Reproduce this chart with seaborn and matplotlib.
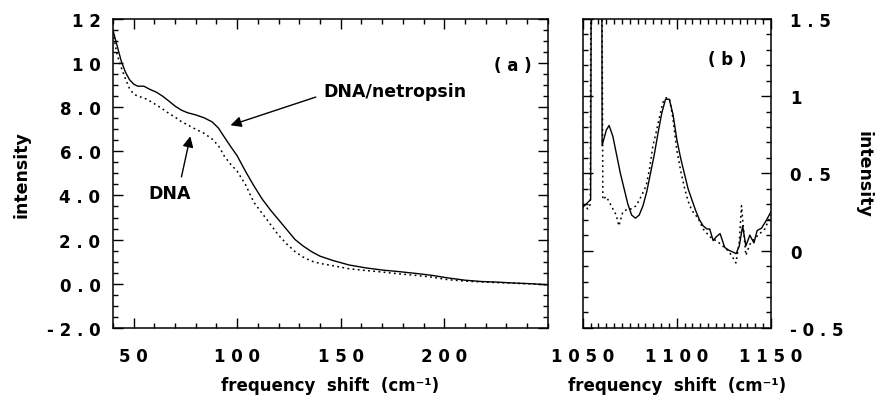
import matplotlib
matplotlib.use("Agg")
import matplotlib.pyplot as plt
import seaborn as sns
from matplotlib.ticker import MultipleLocator, AutoMinorLocator

# ---- panel (a): low frequency region ----
shift_a = [40, 42, 44, 46, 48, 50, 52, 55, 58, 61, 64, 67, 70, 73, 76, 80, 84,
           88, 91, 94, 97, 100, 104, 108, 112, 116, 120, 124, 128, 132, 136,
           140, 146, 154, 162, 170, 178, 186, 194, 202, 210, 218, 226, 234,
           242, 250]
netropsin_a = [11.5, 10.8, 10.1, 9.6, 9.25, 9.05, 8.95, 8.95, 8.8, 8.68, 8.5,
               8.28, 8.05, 7.87, 7.75, 7.65, 7.52, 7.33, 7.05, 6.62, 6.2, 5.8,
               5.1, 4.45, 3.85, 3.35, 2.9, 2.45, 2.0, 1.7, 1.45, 1.25, 1.06,
               0.85, 0.72, 0.62, 0.55, 0.47, 0.38, 0.26, 0.16, 0.1, 0.07, 0.03,
               0.0, -0.05]
dna_a = [11.4, 10.4, 9.8, 9.3, 8.85, 8.6, 8.5, 8.42, 8.27, 8.1, 7.92, 7.72,
         7.55, 7.35, 7.2, 7.0, 6.82, 6.55, 6.25, 5.75, 5.4, 5.1, 4.5, 3.7, 3.2,
         2.7, 2.2, 1.8, 1.45, 1.2, 1.02, 0.92, 0.82, 0.68, 0.6, 0.53, 0.45,
         0.38, 0.3, 0.18, 0.12, 0.08, 0.05, 0.02, -0.01, -0.05]

# ---- panel (b): 1050-1150 region ----
shift_b_netropsin = [1050, 1052.5, 1054.2, 1054.8, 1060.0, 1060.3, 1062.5, 1064,
                     1066, 1068, 1070, 1072, 1074, 1076, 1078, 1080, 1082, 1084,
                     1086, 1088, 1090, 1092, 1094, 1096, 1098, 1100, 1102, 1104,
                     1106, 1108, 1110, 1112, 1114, 1116, 1117.5, 1119.3, 1121,
                     1123, 1125.5, 1128, 1130, 1131.5, 1133.2, 1135, 1136.7,
                     1138.8, 1141, 1142.7, 1145, 1147.3, 1150]
netropsin_b = [0.28, 0.31, 0.33, 3.0, 3.0, 0.68, 0.78, 0.81, 0.74, 0.62, 0.5,
               0.4, 0.3, 0.23, 0.21, 0.23, 0.29, 0.38, 0.5, 0.62, 0.76, 0.89,
               0.98, 0.98, 0.88, 0.72, 0.6, 0.5, 0.4, 0.33, 0.26, 0.2, 0.16,
               0.14, 0.14, 0.065, 0.09, 0.11, 0.02, 0.0, -0.01, -0.02, 0.03,
               0.16, 0.03, 0.1, 0.05, 0.13, 0.145, 0.19, 0.25]
shift_b_dna = [1050, 1051, 1052.7, 1054.0, 1054.6, 1059.8, 1060.7, 1062.4,
               1063.9, 1066, 1067.8, 1069.2, 1071.3, 1074, 1075.8, 1078.4, 1081,
               1083.7, 1085.5, 1087.3, 1089.1, 1090.9, 1092.6, 1094.4, 1096.2,
               1098, 1100, 1102, 1104, 1106, 1108, 1111.3, 1114, 1117.6, 1122,
               1126.4, 1129.1, 1131.4, 1133.2, 1134.4, 1135.3, 1136.7, 1138.8,
               1141.5, 1144.1, 1146.8, 1150]
dna_b = [0.3, 0.29, 0.27, 0.3, 3.0, 3.0, 0.33, 0.35, 0.32, 0.27, 0.23, 0.16,
         0.25, 0.27, 0.27, 0.29, 0.35, 0.42, 0.53, 0.68, 0.77, 0.87, 0.96, 0.99,
         0.98, 0.85, 0.65, 0.52, 0.41, 0.32, 0.26, 0.21, 0.14, 0.09, 0.055,
         0.01, -0.03, -0.08, 0.055, 0.29, 0.16, -0.03, 0.04, 0.08, 0.11, 0.14,
         0.23]

a_xticks = [50, 100, 150, 200]
a_xticklabels = ["5 0", "1 0 0", "1 5 0", "2 0 0"]
a_yticks = [-2, 0, 2, 4, 6, 8, 10, 12]
a_yticklabels = ["- 2 . 0", "0 . 0", "2 . 0", "4 . 0", "6 . 0", "8 . 0", "1 0", "1 2"]
b_xticks = [1050, 1100, 1150]
b_xticklabels = ["1 0 5 0", "1 1 0 0", "1 1 5 0"]
b_yticks = [-0.5, 0, 0.5, 1, 1.5]
b_yticklabels = ["- 0 . 5", "0", "0 . 5", "1", "1 . 5"]

sns.set_style("ticks")
plt.rcParams['font.family'] = ['DejaVu Sans']
plt.rcParams['font.weight'] = 'bold'
for key in ('text.color', 'axes.labelcolor', 'xtick.color', 'ytick.color', 'axes.edgecolor'):
    plt.rcParams[key] = 'black'

fig = plt.figure(figsize=(8.75, 4.06), dpi=100)
ax_a = fig.add_axes([0.129, 0.19, 0.497, 0.761])
ax_b = fig.add_axes([0.666, 0.19, 0.215, 0.761])

solid = dict(color='black', lw=1.0, estimator=None, sort=False)
dotted = dict(color='black', lw=1.1, linestyle=(0, (1.2, 2.2)), estimator=None, sort=False)

sns.lineplot(x=shift_a, y=netropsin_a, ax=ax_a, **solid)
sns.lineplot(x=shift_a, y=dna_a, ax=ax_a, **dotted)
sns.lineplot(x=shift_b_netropsin, y=netropsin_b, ax=ax_b, **solid)
sns.lineplot(x=shift_b_dna, y=dna_b, ax=ax_b, **dotted)

for ax in (ax_a, ax_b):
    for sp in ax.spines.values():
        sp.set_linewidth(1.1)
        sp.set_visible(True)
        sp.set_color('black')
    ax.tick_params(which='both', direction='in', top=True, right=True,
                   bottom=True, left=True, width=1.0, labelsize=12, colors='black')
    ax.tick_params(which='major', length=7)
    ax.tick_params(which='minor', length=3.5)

# panel (a)
ax_a.set_xlim(40, 250)
ax_a.set_ylim(-2, 12)
ax_a.set_xticks(a_xticks)
ax_a.set_xticklabels(a_xticklabels, fontweight='bold')
ax_a.set_yticks(a_yticks)
ax_a.set_yticklabels(a_yticklabels, fontweight='bold')
ax_a.xaxis.set_minor_locator(MultipleLocator(10))
ax_a.yaxis.set_minor_locator(MultipleLocator(0.5))
ax_a.tick_params(axis='x', which='major', pad=14)
ax_a.tick_params(axis='y', which='major', pad=9)
ax_a.set_xlabel("frequency  shift  (cm⁻¹)", fontsize=12, fontweight='bold', labelpad=8)
ax_a.set_ylabel("intensity", fontsize=12.5, fontweight='bold', labelpad=12)
ax_a.text(233, 9.9, "( a )", fontsize=12, fontweight='bold', ha='center', va='center')

ax_a.annotate("DNA/netropsin", xy=(96.8, 7.18), xytext=(141.5, 8.73),
              fontsize=12.5, fontweight='bold', ha='left', va='center',
              arrowprops=dict(arrowstyle='-|>', color='black', lw=1.0,
                              mutation_scale=16, relpos=(0, 0.3), shrinkA=3, shrinkB=0))
ax_a.annotate("DNA", xy=(77.4, 6.68), xytext=(67.2, 4.1),
              fontsize=12.5, fontweight='bold', ha='center', va='center',
              arrowprops=dict(arrowstyle='-|>', color='black', lw=1.0,
                              mutation_scale=16, relpos=(0.75, 1), shrinkA=3, shrinkB=0))

# panel (b)
ax_b.set_xlim(1050, 1150)
ax_b.set_ylim(-0.5, 1.5)
ax_b.set_xticks(b_xticks)
ax_b.set_xticklabels(b_xticklabels, fontweight='bold')
ax_b.set_yticks(b_yticks)
ax_b.set_yticklabels(b_yticklabels, fontweight='bold')
ax_b.xaxis.set_minor_locator(AutoMinorLocator(12))
ax_b.yaxis.set_minor_locator(MultipleLocator(0.1))
ax_b.tick_params(axis='y', which='both', labelleft=False, labelright=True)
ax_b.tick_params(axis='x', which='major', pad=14)
ax_b.tick_params(axis='y', which='major', pad=14)
ax_b.yaxis.set_label_position('right')
ax_b.set_xlabel("frequency  shift  (cm⁻¹)", fontsize=12, fontweight='bold', labelpad=8)
ax_b.set_ylabel("intensity", fontsize=12.5, fontweight='bold', rotation=270, labelpad=21)
ax_b.text(1127, 1.24, "( b )", fontsize=12, fontweight='bold', ha='center', va='center')

fig.savefig("out.png", dpi=100)
